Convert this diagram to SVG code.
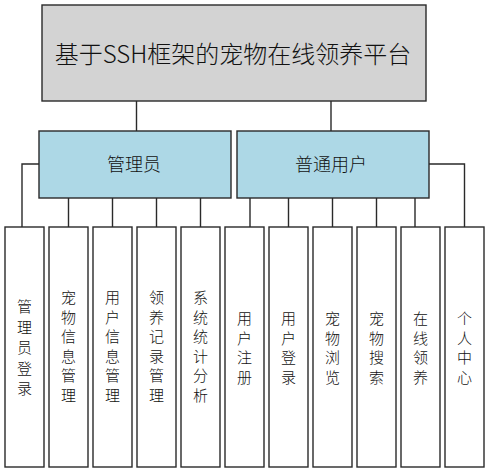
<svg xmlns="http://www.w3.org/2000/svg" width="489" height="473" viewBox="0 0 489 473">
<style>
.box{stroke:#2a2a2a;stroke-width:1.4}
.root{fill:#d3d3d3}
.mid{fill:#add8e6}
.leaf{fill:#ffffff}
.t{font-family:"Microsoft YaHei","Noto Sans CJK SC","Noto Sans",sans-serif;font-weight:300;fill:#111;text-anchor:middle;dominant-baseline:central}
.lt{font-size:15px}
#conn path{fill:none;stroke:#2a2a2a;stroke-width:1.4}
</style>
<rect width="489" height="473" fill="#ffffff"/>
<g id="conn">
<path d="M136.5 101V131M331 101V131"/>
<path d="M39 164H22V227M68.5 198V227M112.5 198V227M156.5 198V227M200.5 198V227"/>
<path d="M250 198V227M288.5 198V227M332.5 198V227M376.5 198V227M415 198V227M429 164H464.5V227"/>
</g>
<g id="root"><rect class="box root" x="42" y="5" width="384" height="96"/><text class="t" x="233" y="52" font-size="24">基于SSH框架的宠物在线领养平台</text></g>
<g id="admin"><rect class="box mid" x="39" y="131" width="192" height="67"/><text class="t" x="134" y="163" font-size="18">管理员</text></g>
<g id="user"><rect class="box mid" x="237" y="131" width="192" height="67"/><text class="t" x="331" y="163" font-size="18">普通用户</text></g>
<g id="n1"><rect class="box leaf" x="5" y="227" width="39" height="240"/><text class="t lt" x="24.5" y="305"><tspan x="24.5">管</tspan><tspan x="24.5" dy="20.5">理</tspan><tspan x="24.5" dy="20.5">员</tspan><tspan x="24.5" dy="20.5">登</tspan><tspan x="24.5" dy="20.5">录</tspan></text></g>
<g id="n2"><rect class="box leaf" x="49" y="227" width="39" height="240"/><text class="t lt" x="68.5" y="296"><tspan x="68.5">宠</tspan><tspan x="68.5" dy="19.6">物</tspan><tspan x="68.5" dy="19.6">信</tspan><tspan x="68.5" dy="19.6">息</tspan><tspan x="68.5" dy="19.6">管</tspan><tspan x="68.5" dy="19.6">理</tspan></text></g>
<g id="n3"><rect class="box leaf" x="93" y="227" width="39" height="240"/><text class="t lt" x="112.5" y="296"><tspan x="112.5">用</tspan><tspan x="112.5" dy="19.6">户</tspan><tspan x="112.5" dy="19.6">信</tspan><tspan x="112.5" dy="19.6">息</tspan><tspan x="112.5" dy="19.6">管</tspan><tspan x="112.5" dy="19.6">理</tspan></text></g>
<g id="n4"><rect class="box leaf" x="137" y="227" width="39" height="240"/><text class="t lt" x="156.5" y="296"><tspan x="156.5">领</tspan><tspan x="156.5" dy="19.6">养</tspan><tspan x="156.5" dy="19.6">记</tspan><tspan x="156.5" dy="19.6">录</tspan><tspan x="156.5" dy="19.6">管</tspan><tspan x="156.5" dy="19.6">理</tspan></text></g>
<g id="n5"><rect class="box leaf" x="181" y="227" width="39" height="240"/><text class="t lt" x="200.5" y="296"><tspan x="200.5">系</tspan><tspan x="200.5" dy="19.6">统</tspan><tspan x="200.5" dy="19.6">统</tspan><tspan x="200.5" dy="19.6">计</tspan><tspan x="200.5" dy="19.6">分</tspan><tspan x="200.5" dy="19.6">析</tspan></text></g>
<g id="n6"><rect class="box leaf" x="225" y="227" width="39" height="240"/><text class="t lt" x="244.5" y="317"><tspan x="244.5">用</tspan><tspan x="244.5" dy="19.5">户</tspan><tspan x="244.5" dy="19.5">注</tspan><tspan x="244.5" dy="19.5">册</tspan></text></g>
<g id="n7"><rect class="box leaf" x="269" y="227" width="39" height="240"/><text class="t lt" x="288.5" y="317"><tspan x="288.5">用</tspan><tspan x="288.5" dy="19.5">户</tspan><tspan x="288.5" dy="19.5">登</tspan><tspan x="288.5" dy="19.5">录</tspan></text></g>
<g id="n8"><rect class="box leaf" x="313" y="227" width="39" height="240"/><text class="t lt" x="332.5" y="317"><tspan x="332.5">宠</tspan><tspan x="332.5" dy="19.5">物</tspan><tspan x="332.5" dy="19.5">浏</tspan><tspan x="332.5" dy="19.5">览</tspan></text></g>
<g id="n9"><rect class="box leaf" x="357" y="227" width="39" height="240"/><text class="t lt" x="376.5" y="317"><tspan x="376.5">宠</tspan><tspan x="376.5" dy="19.5">物</tspan><tspan x="376.5" dy="19.5">搜</tspan><tspan x="376.5" dy="19.5">索</tspan></text></g>
<g id="n10"><rect class="box leaf" x="401" y="227" width="39" height="240"/><text class="t lt" x="420.5" y="317"><tspan x="420.5">在</tspan><tspan x="420.5" dy="19.5">线</tspan><tspan x="420.5" dy="19.5">领</tspan><tspan x="420.5" dy="19.5">养</tspan></text></g>
<g id="n11"><rect class="box leaf" x="445" y="227" width="39" height="240"/><text class="t lt" x="464.5" y="317"><tspan x="464.5">个</tspan><tspan x="464.5" dy="19.5">人</tspan><tspan x="464.5" dy="19.5">中</tspan><tspan x="464.5" dy="19.5">心</tspan></text></g>
</svg>
